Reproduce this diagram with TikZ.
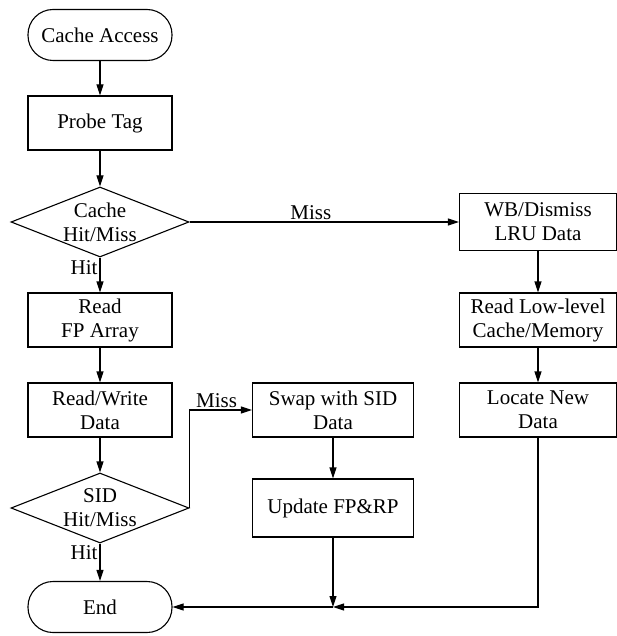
\documentclass[tikz,border=0pt]{standalone}
\usepackage{fontspec}
\setmainfont{Liberation Serif}
\usepackage{tikz}
\usetikzlibrary{shapes.geometric,arrows.meta}

\tikzset{
    flow/.style={draw, line width=1.1pt, text centered, align=center, inner sep=0pt},
    terminal/.style={flow, rounded corners=25pt, minimum width=144pt, minimum height=51pt},
    process/.style={flow, minimum width=144pt, minimum height=54pt},
    wideprocess/.style={process, minimum width=161pt},
    decision/.style={flow, diamond, minimum width=178pt, minimum height=70pt},
    tag/.style={inner sep=2pt},
}

\begin{document}
\begin{tikzpicture}[x=1pt, y=-1pt, line width=1.1pt,
    >={Triangle[length=11pt, width=7pt]},
    every node/.style={font=\fontsize{21}{24}\selectfont}]
    \useasboundingbox (0,0) rectangle (617,636);

    % left column
    \node[terminal] (start) at (100,35) {Cache Access};
    \node[process] (probe) at (100,123) {Probe Tag};
    \node[decision, label={[align=center]center:Cache\\Hit/Miss}] (cachehm) at (100,222) {};
    \node[process] (readfp) at (100,320) {Read\\FP Array};
    \node[process] (rwdata) at (100,410) {Read/Write\\Data};
    \node[decision, label={[align=center]center:SID\\Hit/Miss}] (sidhm) at (100,508) {};
    \node[terminal] (end) at (100,607) {End};

    % middle column
    \node[wideprocess] (swap) at (333,410) {Swap with SID\\Data};
    \node[wideprocess, minimum height=58pt] (update) at (333,508) {Update FP\&RP};

    % right column
    \node[process, minimum width=157pt, minimum height=57pt] (wb) at (538,222) {WB/Dismiss\\LRU Data};
    \node[process, minimum width=157pt] (readll) at (538,320) {Read Low-level\\Cache/Memory};
    \node[process, minimum width=157pt] (locate) at (538,410) {Locate New\\Data};

    \coordinate (join) at (update.south |- end.east);

    \draw[->] (start) -- (probe);
    \draw[->] (probe) -- (cachehm);
    \draw[->] (cachehm) -- node[tag, left, pos=0.3] {Hit} (readfp);
    \draw[->] (cachehm.east) -- node[tag, above, pos=0.45] {Miss} (wb.west);
    \draw[->] (readfp) -- (rwdata);
    \draw[->] (rwdata) -- (sidhm);
    \draw[->] (sidhm) -- node[tag, left, pos=0.25] {Hit} (end);
    \draw[->] (sidhm.east) |- node[tag, above right, pos=0.5, xshift=4pt] {Miss} (swap.west);
    \draw[->] (swap) -- (update);
    \draw[->] (wb) -- (readll);
    \draw[->] (readll) -- (locate);
    \draw[->] (update) -- (join);
    \draw[->] (locate.south) |- (join);
    \draw[->] (join) -- (end.east);
\end{tikzpicture}
\end{document}
